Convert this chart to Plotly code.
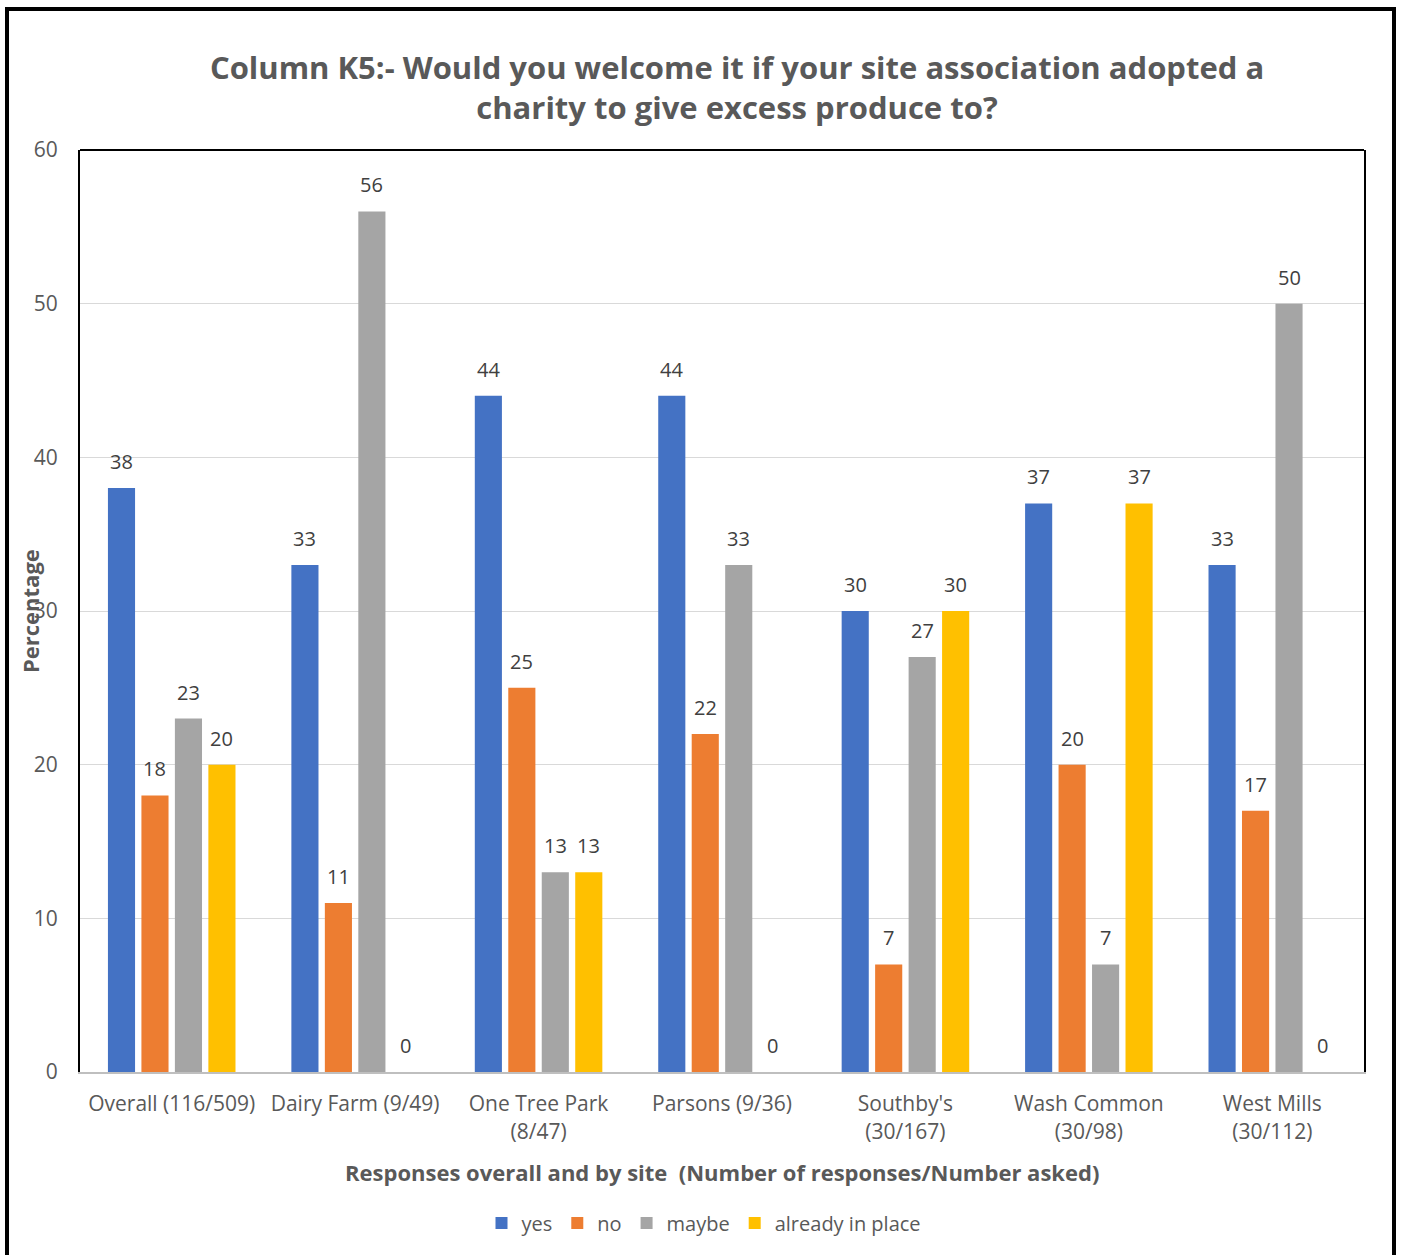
import plotly.graph_objects as go

# Survey results by site (percentages)
sites = [
    "Overall (116/509)",
    "Dairy Farm (9/49)",
    "One Tree Park<br>(8/47)",
    "Parsons (9/36)",
    "Southby's<br>(30/167)",
    "Wash Common<br>(30/98)",
    "West Mills<br>(30/112)",
]
yes = [38, 33, 44, 44, 30, 37, 33]
no = [18, 11, 25, 22, 7, 20, 17]
maybe = [23, 56, 13, 33, 27, 7, 50]
already_in_place = [20, 0, 13, 0, 30, 37, 0]

series = [
    ("yes", yes, "#4472C4"),
    ("no", no, "#ED7D31"),
    ("maybe", maybe, "#A5A5A5"),
    ("already in place", already_in_place, "#FFC000"),
]

FONT = "Open Sans"
TEXT_GREY = "#595959"

W, H = 1402, 1255
L, R, T, B = 80, 38, 150, 183
pw, ph = W - L - R, H - T - B
BARGAP, GROUPGAP = 0.27, 0.19


def px_x(x):
    return (x - L) / pw


def px_y(y):
    return (H - B - y) / ph


fig = go.Figure()
for name, vals, color in series:
    fig.add_trace(go.Bar(
        name=name,
        x=sites,
        y=vals,
        marker=dict(color=color, line=dict(width=0)),
    ))

# value labels above each bar, offset to the bar's slot within its group
slot = pw / len(sites) * (1 - BARGAP) / len(series)
annotations = []
for k, (name, vals, color) in enumerate(series):
    shift = (k - (len(series) - 1) / 2) * slot
    for site, v in zip(sites, vals):
        annotations.append(dict(
            x=site, y=v, xref="x", yref="y", text=str(v),
            showarrow=False, xanchor="center", yanchor="bottom",
            xshift=shift, yshift=11,
            font=dict(family=FONT, size=20, color="#404040"),
        ))

annotations += [
    dict(text="Percentage", textangle=-90, xref="paper", yref="paper",
         x=px_x(30), y=px_y(611), xanchor="center", yanchor="middle",
         showarrow=False,
         font=dict(family=FONT, size=22, color=TEXT_GREY, weight="bold")),
    dict(text="Responses overall and by site  (Number of responses/Number asked)",
         xref="paper", yref="paper",
         x=px_x(722), y=px_y(1172), xanchor="center", yanchor="middle",
         showarrow=False,
         font=dict(family=FONT, size=22, color=TEXT_GREY, weight="bold")),
]

fig.update_layout(
    width=W,
    height=H,
    margin=dict(l=L, r=R, t=T, b=B),
    paper_bgcolor="white",
    plot_bgcolor="white",
    barmode="group",
    bargap=BARGAP,
    bargroupgap=GROUPGAP,
    font=dict(family=FONT, color=TEXT_GREY),
    title=dict(
        text="Column K5:- Would you welcome it if your site association adopted a<br>charity to give excess produce to?",
        font=dict(family=FONT, size=31, color=TEXT_GREY, weight="bold"),
        x=px_x(737), xref="paper", xanchor="center",
        y=(H - 79) / H, yref="container", yanchor="middle",
    ),
    showlegend=True,
    legend=dict(
        orientation="h",
        x=px_x(704), xanchor="center",
        y=px_y(1223), yanchor="middle",
        font=dict(family=FONT, size=20, color=TEXT_GREY),
        traceorder="normal",
    ),
    xaxis=dict(
        showline=True, linecolor="#BFBFBF", linewidth=2,
        tickfont=dict(family=FONT, size=21, color=TEXT_GREY),
        ticks="", ticklabelstandoff=12,
        showgrid=False,
    ),
    yaxis=dict(
        range=[0, 60], dtick=10,
        showline=True, linecolor="black", linewidth=2, mirror=True,
        showgrid=True, gridcolor="#D9D9D9", gridwidth=1,
        zeroline=False,
        tickfont=dict(family=FONT, size=21, color=TEXT_GREY),
        ticks="", ticklabelstandoff=16,
    ),
    shapes=[
        # top edge of the plot frame
        dict(type="line", xref="paper", yref="paper", x0=0, x1=1, y0=1, y1=1,
             line=dict(color="black", width=2)),
        # outer chart border
        dict(type="rect", xref="paper", yref="paper",
             x0=px_x(7), x1=px_x(1394), y0=px_y(1262), y1=px_y(9),
             line=dict(color="black", width=4), layer="above"),
    ],
    annotations=annotations,
)

fig.write_html("out.html")
